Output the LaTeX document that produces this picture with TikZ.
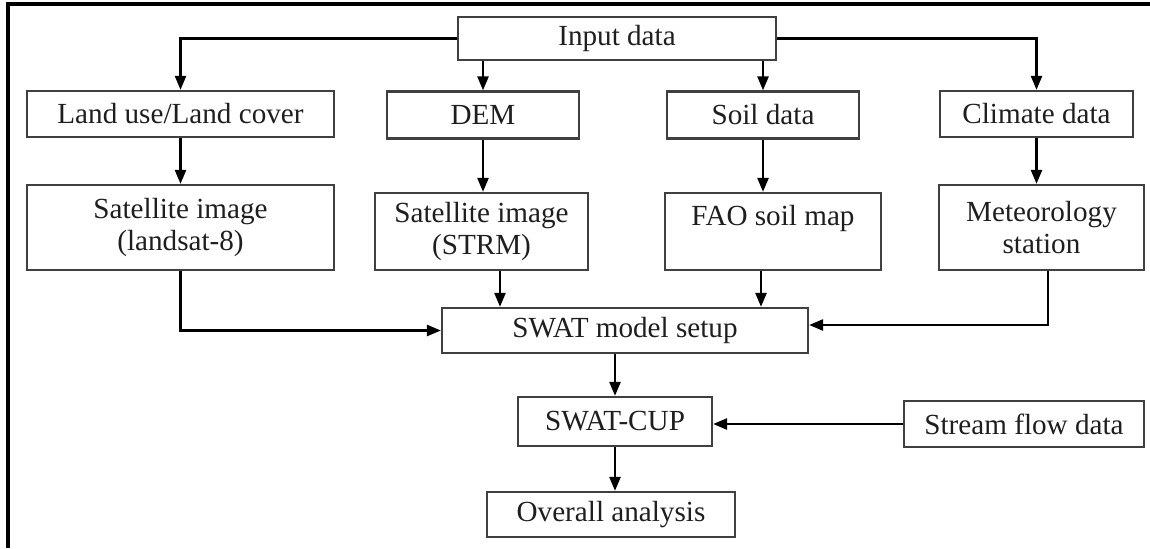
\documentclass[tikz,border=0pt]{standalone}
\usepackage{fontspec}
\setmainfont{Liberation Serif}
\usetikzlibrary{positioning, arrows.meta}
\definecolor{boxline}{HTML}{404040}
\definecolor{ink}{HTML}{1E1E1E}

\tikzset{
  box/.style={draw=boxline, line width=1.3pt, rectangle, align=center,
    inner sep=2pt, text=ink, font=\fontsize{16.6}{18.5}\selectfont},
  arr/.style={-{Triangle[length=0.28cm,width=0.22cm]}, line width=1.4pt, black}
}

\begin{document}
\begin{tikzpicture}[x=0.02cm,y=-0.02cm]
  \useasboundingbox (0,0) rectangle (1150,548);
  % outer frame
  \draw[line width=1.8pt] (8,548) -- (8,4) -- (1150,4);

  \node[box, minimum width=6.36cm, minimum height=0.86cm] (input) at (617,38.5) {Input data};

  \node[box, minimum width=6.14cm, minimum height=0.92cm] (landuse) at (180.5,114) {Land use/Land cover};
  \node[box, minimum width=3.84cm, minimum height=0.94cm] (dem) at (483,115) {DEM};
  \node[box, minimum width=3.84cm, minimum height=0.94cm] (soil) at (763,115) {Soil data};
  \node[box, minimum width=3.86cm, minimum height=0.92cm] (climate) at (1036.5,114) {Climate data};

  \node[box, minimum width=6.14cm, minimum height=1.70cm] (landsat) at (180.5,227.5) {Satellite image\\(landsat-8)};
  \node[box, minimum width=4.26cm, minimum height=1.54cm] (strm) at (481.5,231.5) {Satellite image\\(STRM)};
  \node[box, minimum width=4.32cm, minimum height=1.54cm] (fao) at (773,231.5) {FAO soil map\\\mbox{}};
  \node[box, minimum width=4.10cm, minimum height=1.70cm] (meteo) at (1041.5,227.5) {Meteorology\\station};

  \node[box, minimum width=7.32cm, minimum height=0.90cm] (swat) at (625,330.5) {SWAT model setup};
  \node[box, minimum width=3.88cm, minimum height=0.98cm] (cup) at (615,421.5) {SWAT-CUP};
  \node[box, minimum width=4.80cm, minimum height=0.92cm] (stream) at (1024,424) {Stream flow data};
  \node[box, minimum width=4.96cm, minimum height=0.90cm] (overall) at (611,514.5) {Overall analysis};

  % input data to the four sources
  \draw[arr] (input.west) -| (landuse.north);
  \draw[arr] (input.east) -| (climate.north);
  \draw[arr] (input.south -| dem.north) -- (dem.north);
  \draw[arr] (input.south -| soil.north) -- (soil.north);

  % sources to data sets
  \draw[arr] (landuse) -- (landsat);
  \draw[arr] (dem.south) -- (dem.south |- strm.north);
  \draw[arr] (soil.south) -- (soil.south |- fao.north);
  \draw[arr] (climate.south) -- (climate.south |- meteo.north);

  % data sets to the model
  \draw[arr] (landsat.south) |- (swat.west);
  \draw[arr] ([xshift=0.37cm]strm.south) -- ([xshift=0.37cm]strm.south |- swat.north);
  \draw[arr] ([xshift=-0.24cm]fao.south) -- ([xshift=-0.24cm]fao.south |- swat.north);
  \draw[arr] ([xshift=0.13cm]meteo.south) |- ([yshift=0.11cm]swat.east);

  % calibration and analysis
  \draw[arr] (swat.south -| cup.north) -- (cup.north);
  \draw[arr] (stream.west) -- (stream.west -| cup.east);
  \draw[arr] (cup.south) -- (cup.south |- overall.north);
\end{tikzpicture}
\end{document}
